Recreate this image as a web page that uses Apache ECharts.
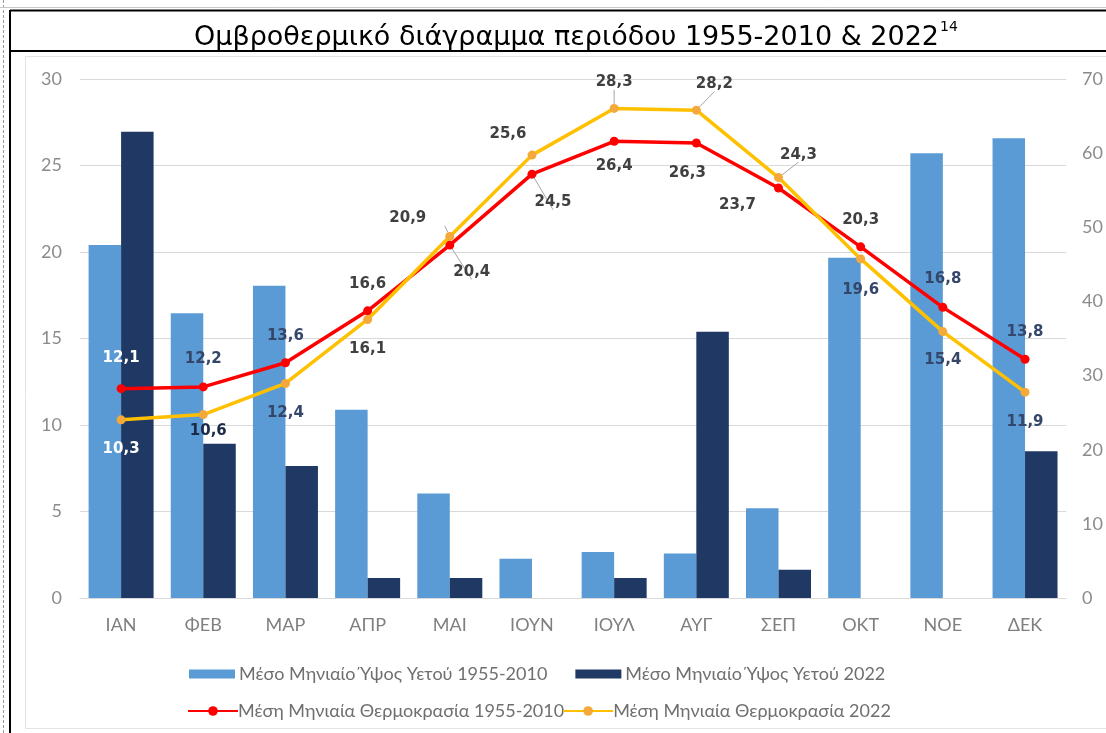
<!DOCTYPE html>
<html>
<head>
<meta charset="utf-8">
<script src="https://cdn.jsdelivr.net/npm/echarts@6/dist/echarts.min.js"></script>
<style>
html,body{margin:0;padding:0;background:#fff;}
#c{width:1106px;height:733px;}
</style>
</head>
<body>
<div id="c"></div>
<script>
const categories = ['ΙΑΝ','ΦΕΒ','ΜΑΡ','ΑΠΡ','ΜΑΙ','ΙΟΥΝ','ΙΟΥΛ','ΑΥΓ','ΣΕΠ','ΟΚΤ','ΝΟΕ','ΔΕΚ'];
const rain1955 = [47.6, 38.4, 42.1, 25.4, 14.1, 5.3, 6.2, 6.0, 12.1, 45.9, 60.0, 62.0];
const rain2022 = [62.9, 20.8, 17.8, 2.7, 2.7, 0, 2.7, 35.9, 3.8, 0, 0, 19.8];
const temp1955 = [12.1, 12.2, 13.6, 16.6, 20.4, 24.5, 26.4, 26.3, 23.7, 20.3, 16.8, 13.8];
const temp2022 = [10.3, 10.6, 12.4, 16.1, 20.9, 25.6, 28.3, 28.2, 24.3, 19.6, 15.4, 11.9];
const leftTicks = [0, 5, 10, 15, 20, 25, 30];
const rightTicks = [0, 10, 20, 30, 40, 50, 60, 70];

const names = [
  'Μέσο Μηνιαίο Ύψος Υετού 1955-2010',
  'Μέσο Μηνιαίο Ύψος Υετού 2022',
  'Μέση Μηνιαία Θερμοκρασία 1955-2010',
  'Μέση Μηνιαία Θερμοκρασία 2022'
];

// label placement (style only): [dx, dy, colourKey, leader]
const off1955 = [[0,-31,'w',0],[0,-28,'b',0],[0,-27,'b',0],[0,-27,'g',0],[22,27,'g',1],[21,28,'g',1],[0,25,'g',0],[-9,30,'g',0],[-41,17,'g',0],[0,-27,'g',0],[0,-28,'b',0],[0,-27,'b',0]];
const off2022 = [[0,29,'w',0],[5,16,'k',0],[0,30,'b',0],[0,30,'g',0],[-42,-18,'g',1],[-24,-21,'g',0],[0,-26,'g',1],[18,-26,'g',1],[20,-23,'g',1],[0,31,'b',0],[0,29,'b',0],[0,30,'b',0]];
const colMap = {w:'#ffffff', b:'#34466a', g:'#404040', k:'#1c2a4a'};

function fmt(v){ return String(v.toFixed(1)).replace('.', ','); }

function lineData(vals, offs){
  return vals.map((v,i)=>{
    const o = offs[i];
    return {
      value: v,
      label: {show:true, position:'inside', offset:[o[0], o[1]], color: colMap[o[2]]},
      labelLine: {show: !!o[3], lineStyle:{color:'#a6a6a6', width:1}}
    };
  });
}

const chart = echarts.init(document.getElementById('c'), null, {renderer:'canvas'});
const axisFont = 'Lato, "Open Sans", sans-serif';
const titleFont = '"DejaVu Sans", Verdana, sans-serif';

chart.setOption({
  animation:false,
  backgroundColor:'#ffffff',
  title:{
    text:'{a|Ομβροθερμικό διάγραμμα περιόδου 1955-2010 & 2022}{s|14}',
    left:189, top:15,
    textStyle:{
      fontWeight:'normal',
      rich:{
        a:{fontFamily:titleFont, fontSize:27, fontWeight:'normal', color:'#000', verticalAlign:'bottom', lineHeight:31},
        s:{fontFamily:titleFont, fontSize:14, fontWeight:'normal', color:'#000', verticalAlign:'top', lineHeight:31, padding:[0,0,0,1]}
      }
    }
  },
  graphic:[
    {type:'rect', shape:{x:25.5, y:56.5, width:1090, height:672}, style:{fill:'none', stroke:'#e3e3e3', lineWidth:1}, silent:true, z:-1},
    {type:'line', shape:{x1:10, y1:10.5, x2:1106, y2:10.5}, style:{stroke:'#000', lineWidth:2}, silent:true},
    {type:'line', shape:{x1:10, y1:51, x2:1106, y2:51}, style:{stroke:'#000', lineWidth:2}, silent:true},
    {type:'line', shape:{x1:10, y1:10, x2:10, y2:733}, style:{stroke:'#000', lineWidth:2}, silent:true},
    {type:'line', shape:{x1:3.5, y1:0, x2:3.5, y2:733}, style:{stroke:'#9a9a9a', lineWidth:1, lineDash:[3,2]}, silent:true},
    {type:'line', shape:{x1:0, y1:7.5, x2:1106, y2:7.5}, style:{stroke:'#c8c8c8', lineWidth:1}, silent:true}
  ],
  grid:{left:80, right:39, top:79, bottom:135, containLabel:false},
  legend:[
    {
      data:[names[0], names[1]],
      left:184, top:660,
      itemWidth:46, itemHeight:9, itemGap:28,
      icon:'rect',
      textStyle:{color:'#6f6f6f', fontSize:18, fontFamily:axisFont, padding:[0,0,0,-1]}
    },
    {
      data:[names[2], names[3]],
      left:182, top:697,
      itemWidth:50, itemHeight:12, itemGap:-2,
      textStyle:{color:'#6f6f6f', fontSize:18, fontFamily:axisFont, padding:[0,0,0,-5]}
    }
  ],
  xAxis:{
    type:'category', data:categories,
    axisLine:{show:true, lineStyle:{color:'#d9d9d9', width:1}},
    axisTick:{show:false},
    axisLabel:{color:'#7f7f7f', fontSize:18, fontFamily:axisFont, margin:18}
  },
  yAxis:[
    {
      type:'value', position:'left', min:leftTicks[0], max:leftTicks[leftTicks.length-1], interval:5,
      axisLine:{show:false}, axisTick:{show:false},
      axisLabel:{color:'#8c8c8c', fontSize:18, fontFamily:axisFont, margin:18},
      splitLine:{show:true, lineStyle:{color:'#d9d9d9', width:1}}
    },
    {
      type:'value', position:'right', min:rightTicks[0], max:rightTicks[rightTicks.length-1], interval:10,
      axisLine:{show:false}, axisTick:{show:false},
      axisLabel:{color:'#8c8c8c', fontSize:18, fontFamily:axisFont, margin:16},
      splitLine:{show:false}
    }
  ],
  series:[
    {
      name:names[0], type:'bar', yAxisIndex:1, data:rain1955,
      barWidth:32.5, barGap:'0%',
      itemStyle:{color:'#5b9bd5'}
    },
    {
      name:names[1], type:'bar', yAxisIndex:1, data:rain2022,
      barWidth:32.5, barGap:'0%',
      itemStyle:{color:'#1f3864'}
    },
    {
      name:names[2], type:'line', yAxisIndex:0, data:lineData(temp1955, off1955),
      symbol:'circle', symbolSize:9,
      lineStyle:{color:'#ff0000', width:3.5},
      itemStyle:{color:'#ff0000'},
      label:{show:true, fontFamily:titleFont, fontWeight:'bold', fontSize:15,
             formatter:p=>fmt(p.value)},
      z:3
    },
    {
      name:names[3], type:'line', yAxisIndex:0, data:lineData(temp2022, off2022),
      symbol:'circle', symbolSize:9,
      lineStyle:{color:'#ffc000', width:3.5},
      itemStyle:{color:'#f5a93a'},
      label:{show:true, fontFamily:titleFont, fontWeight:'bold', fontSize:15,
             formatter:p=>fmt(p.value)},
      z:4
    }
  ]
});
</script>
</body>
</html>
